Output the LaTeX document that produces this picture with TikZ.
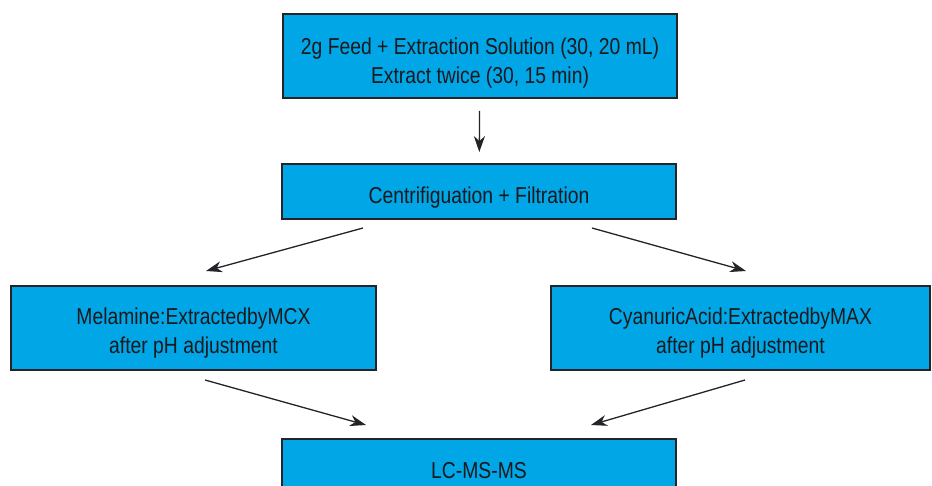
\documentclass[tikz,border=0pt]{standalone}
\usepackage{fontspec}
\setmainfont{Liberation Sans}[FakeStretch=0.84]
\usetikzlibrary{arrows.meta,calc}
\definecolor{boxfill}{RGB}{0,166,230}
\definecolor{boxline}{RGB}{35,35,40}
\definecolor{txt}{RGB}{25,25,30}
\begin{document}
\begin{tikzpicture}[x=1pt,y=-1pt,
  box/.style={draw=boxline,line width=1.8pt,fill=boxfill,inner sep=0pt},
  lbl/.style={inner sep=0pt,align=center,anchor=base,text=txt,
    font=\fontsize{23}{29}\selectfont},
  arr/.style={draw=boxline,line width=1.3pt,-{Stealth[length=16pt,width=11pt,inset=5pt]}}]
\useasboundingbox (0,0) rectangle (932,486);
\clip (0,0) rectangle (932,486);
\node[box,minimum width=394,minimum height=84] (b1) at (480,56) {};
\node[box,minimum width=394,minimum height=55] (b2) at (479,191.5) {};
\node[box,minimum width=365,minimum height=84] (b3) at (193.5,328) {};
\node[box,minimum width=379,minimum height=84] (b4) at (740.5,328) {};
\node[box,minimum width=394,minimum height=64] (b5) at (479,471) {};
\node[lbl] (t1) at (480,83.3) {2g Feed + Extraction Solution (30, 20 mL)\\Extract twice (30, 15 min)};
\node[lbl] (t2) at (479,204) {Centrifiguation + Filtration};
\node[lbl] (t3) at (193.5,354) {Melamine:ExtractedbyMCX\\after pH adjustment};
\node[lbl] (t4) at (740.5,354) {CyanuricAcid:ExtractedbyMAX\\after pH adjustment};
\node[lbl] (t5) at (479,478.3) {LC-MS-MS};
\draw[arr,shorten <=12pt,shorten >=11pt] (b1) -- (b2);
\coordinate (l1s) at (363,228); \coordinate (l1e) at (206,271);
\coordinate (r1s) at (592,228); \coordinate (r1e) at (746,271);
\coordinate (l2s) at (205,380); \coordinate (l2e) at (366,425);
\coordinate (r2s) at (745,380); \coordinate (r2e) at (591,425);
\draw[arr] (l1s) -- (l1e);
\draw[arr] (r1s) -- (r1e);
\draw[arr] (l2s) -- (l2e);
\draw[arr] (r2s) -- (r2e);
\end{tikzpicture}
\end{document}
